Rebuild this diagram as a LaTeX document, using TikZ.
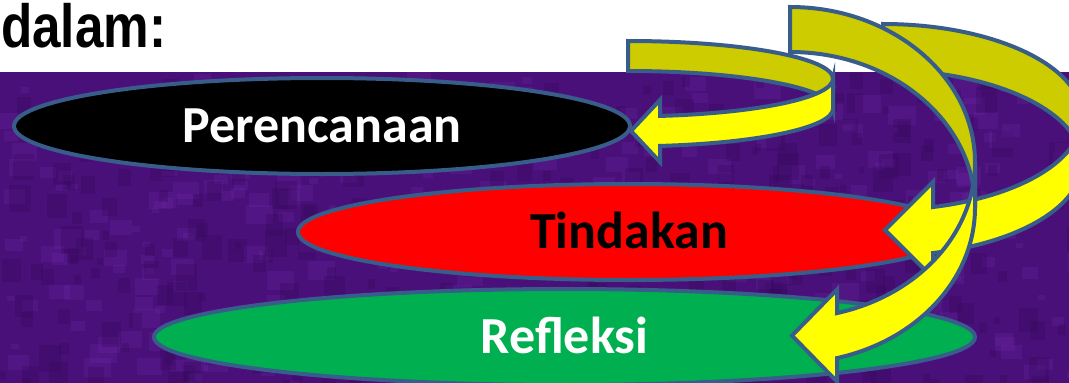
\documentclass[tikz,border=0pt]{standalone}
\usepackage{fontspec}
\usetikzlibrary{shapes.geometric}
\newfontfamily\carl{Carlito}
\newfontfamily\libsans{Liberation Sans}
\definecolor{purp}{RGB}{74,16,122}
\definecolor{purplight}{RGB}{112,44,170}
\definecolor{purpdark}{RGB}{48,6,86}
\definecolor{backyel}{RGB}{204,204,0}
\definecolor{frontyel}{RGB}{255,255,0}
\definecolor{edgeblue}{RGB}{56,93,138}
\definecolor{grn}{RGB}{0,176,80}
\definecolor{rd}{RGB}{255,0,0}

% #1 cx, #2 cy1, #3 rx, #4 ry, #5 band thickness, #6 head base offset, #7 head half width, #8 tip offset
\newcommand\CurvArrow[8]{%
  \pgfmathsetmacro\CAphi{acos(#6/#3)}%
  \pgfmathsetmacro\CAsin{sin(\CAphi)}%
  \pgfmathsetmacro\CAmid{#2+#5/2+#4*\CAsin}%
  \draw[arrback] (#1,#2-#4) arc[start angle=-90,end angle=0,x radius=#3,y radius=#4]
     -- ++(0,#5) arc[start angle=0,end angle=-90,x radius=#3,y radius=#4] -- cycle;
  \draw[arrfront] (#1+#3,#2) arc[start angle=0,end angle=\CAphi,x radius=#3,y radius=#4]
     -- (#1+#6,\CAmid-#7) -- (#1+#8,\CAmid) -- (#1+#6,\CAmid+#7)
     -- (#1+#6,#2+#5+#4*\CAsin) arc[start angle=\CAphi,end angle=0,x radius=#3,y radius=#4] -- cycle;
}

\begin{document}
\begin{tikzpicture}[x=1pt,y=-1pt,
  arrback/.style={fill=backyel,draw=edgeblue,line width=4pt},
  arrfront/.style={fill=frontyel,draw=edgeblue,line width=4pt},
  oval/.style={ellipse,draw=edgeblue,line width=4pt,inner sep=0pt,
     font=\carl\bfseries\fontsize{52}{62}\selectfont,text height=33pt,text depth=0pt}]
\useasboundingbox (0,0) rectangle (1069,383);
\fill[white] (0,0) rectangle (1069,72);
\fill[purp] (0,72) rectangle (1069,383);
\begin{scope}
  \clip (0,72) rectangle (1069,383);
  \pgfmathsetseed{7}
  \foreach \i in {1,...,350}{
    \pgfmathsetmacro\tx{rnd*1069}
    \pgfmathsetmacro\ty{72+rnd*311}
    \pgfmathsetmacro\ts{6+rnd*22}
    \fill[purplight,opacity=0.22] (\tx,\ty) rectangle ++(\ts,0.7*\ts);
  }
  \foreach \i in {1,...,350}{
    \pgfmathsetmacro\tx{rnd*1069}
    \pgfmathsetmacro\ty{72+rnd*311}
    \pgfmathsetmacro\ts{6+rnd*22}
    \fill[purpdark,opacity=0.25] (\tx,\ty) rectangle ++(0.8*\ts,\ts);
  }
\end{scope}

\node[anchor=base west,inner sep=0pt] (dalam) at (1,47)
  {\scalebox{0.84}[1]{\libsans\bfseries\fontsize{61}{68}\selectfont dalam:}};

\node[oval,fill=black,text=white,minimum width=616pt,minimum height=96pt] (plan) at (322,126) {Perencanaan};
\node[oval,fill=rd,text=black,minimum width=662pt,minimum height=96pt] (act) at (629,232) {Tindakan};
\node[oval,fill=grn,text=white,minimum width=821pt,minimum height=96pt] (refl) at (564.5,337) {Refleksi};

\CurvArrow{628}{78.7}{205}{37.7}{30}{32}{31}{3}
\CurvArrow{883}{117}{199}{93}{46}{50}{48}{2}
\CurvArrow{790}{162.6}{185}{155.6}{45}{47}{46}{2}
\end{tikzpicture}
\end{document}
